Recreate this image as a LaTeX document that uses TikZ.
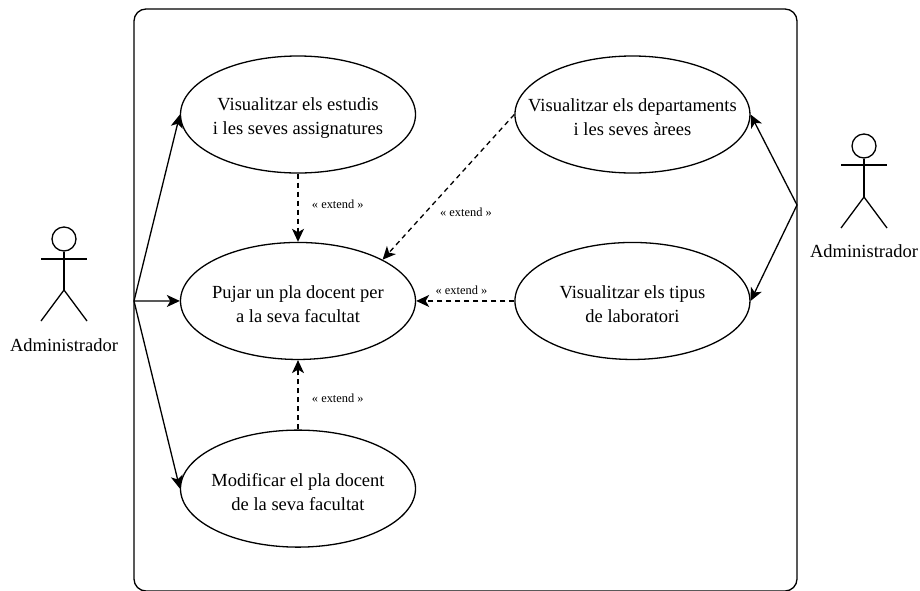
\documentclass[tikz,border=0pt]{standalone}
\usepackage{fontspec}
\setmainfont{Liberation Serif}
\usetikzlibrary{arrows.meta,shapes.geometric}
\newcommand{\ucstrut}{\rule{0pt}{19pt}}
\begin{document}
\begin{tikzpicture}[x=1pt,y=-1pt,line width=1.3pt]
    \tikzset{usecase/.style={draw,ellipse,minimum width=235pt,minimum height=117pt,inner xsep=-60pt,inner ysep=-20pt,align=center,font=\fontsize{18.5}{24}\selectfont},
      actorhead/.style={draw,circle,minimum size=24pt,inner sep=0pt},
      actorname/.style={font=\fontsize{18.5}{21}\selectfont},
      extendlabel/.style={font=\fontsize{12.4}{14}\selectfont},
      assoc/.style={-{Stealth[length=13pt,width=12pt,inset=3.5pt]}},
      extendline/.style={assoc,dashed,dash pattern=on 5pt off 4pt}}
    \useasboundingbox (0,0) rectangle (920,590);
    \draw[rounded corners=12pt] (134,9) rectangle (797,591);

    \node[usecase] (ve) at (298,114.5) {\ucstrut Visualitzar els estudis\\i les seves assignatures};
    \node[usecase] (vd) [right of=ve,xshift=306pt] {\ucstrut Visualitzar els departaments\\i les seves àrees};
    \node[usecase] (pp) [below of=ve,yshift=-158pt] {\ucstrut Pujar un pla docent per\\a la seva facultat};
    \node[usecase] (vl) [right of=pp,xshift=306pt] {\ucstrut Visualitzar els tipus\\de laboratori};
    \node[usecase] (mp) [below of=pp,yshift=-159.2pt] {\ucstrut Modificar el pla docent\\de la seva facultat};

    % actor esquerre
    \node[actorhead] (al) at (64,239) {};
    \coordinate (bl) at (64,290);
    \draw (al) -- (bl);
    \draw (41,259) -- (87,259);
    \draw (41,321) -- (bl) -- (87,321);
    \node[actorname] (nl) at (64,345) {Administrador};

    % actor dret
    \node[actorhead] (ar) at (864,146) {};
    \coordinate (br) at (864,197);
    \draw (ar) -- (br);
    \draw (841,165) -- (887,165);
    \draw (841,228) -- (br) -- (887,228);
    \node[actorname] (nr) at (864,251) {Administrador};

    \coordinate (jl) at (134,301);
    \coordinate (jr) at (797,205);
    \draw[assoc] (jl) -- (ve.west);
    \draw[assoc] (jl) -- (pp.west);
    \draw[assoc] (jl) -- (mp.west);
    \draw[assoc] (jr) -- (vd.east);
    \draw[assoc] (jr) -- (vl.east);

    \draw[extendline] (ve) -- node[extendlabel,right,xshift=10pt,yshift=3.6pt] (e1) {« extend »} (pp);
    \draw[extendline] (vd.west) -- (pp.26);
    \node[extendlabel] (e2) at (466,212) {« extend »};
    \draw[extendline] (vl) -- (pp);
    \node[extendlabel] (e3) at (461.5,290) {« extend »};
    \draw[extendline] (mp) -- node[extendlabel,right,xshift=10pt,yshift=-3pt] (e4) {« extend »} (pp);

  \end{tikzpicture}
\end{document}
